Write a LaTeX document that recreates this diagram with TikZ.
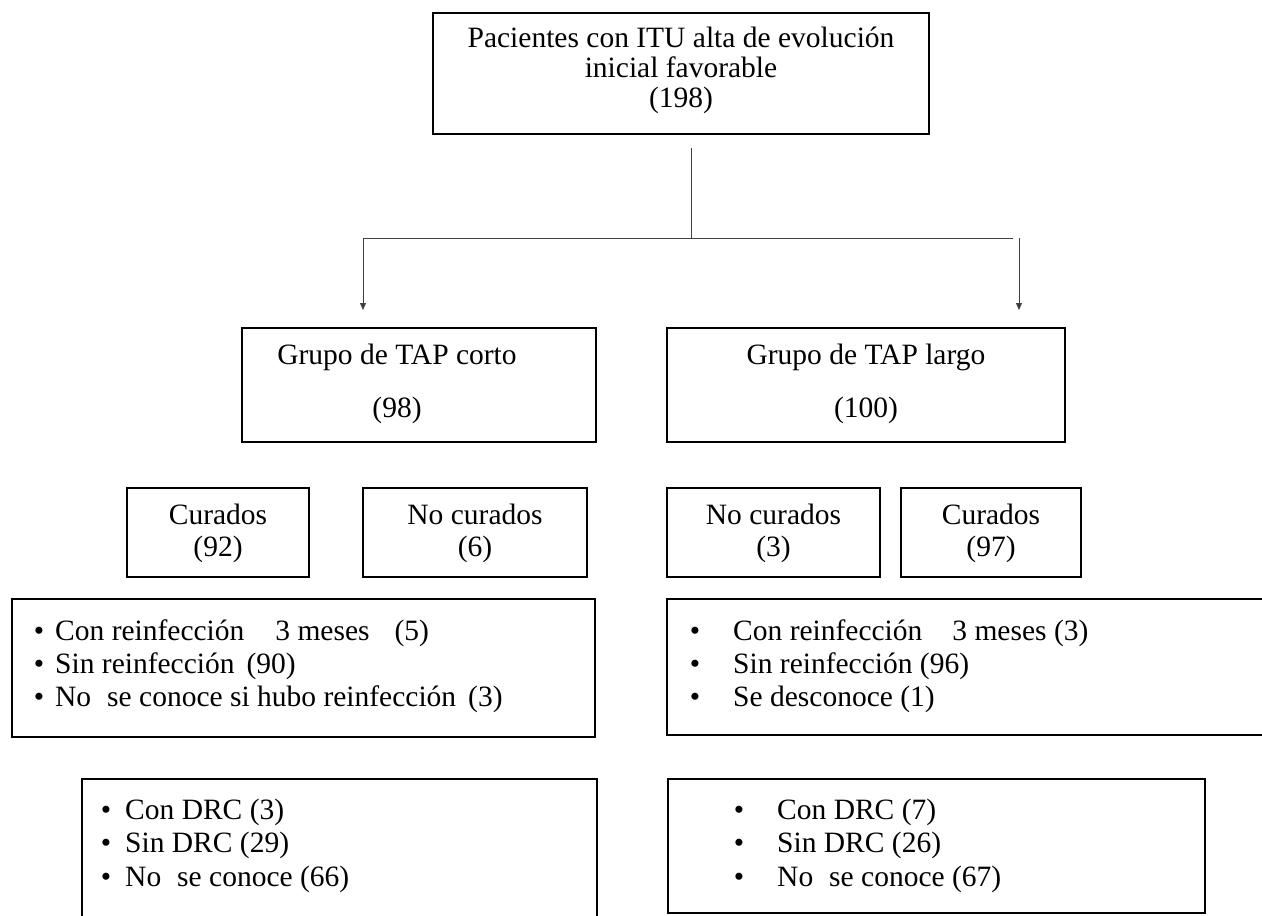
\documentclass[tikz,border=0pt]{standalone}
\usepackage{fontspec}
\setmainfont{Liberation Serif}
\usetikzlibrary{arrows.meta}
\begin{document}
\begin{tikzpicture}[x=1pt,y=-1pt,
  box/.style={draw, line width=1.6pt, rectangle, inner sep=0pt},
  conn/.style={line width=1pt, draw=black!75},
  arr/.style={conn, -{Triangle[length=7pt,width=6pt]}},
  txt/.style={font=\fontsize{29.5}{33}\selectfont, inner sep=0pt},
  bul/.style={font=\fontsize{29.5}{33}\selectfont, inner sep=0pt, anchor=base}]
\useasboundingbox (0,0) rectangle (1262,916);

% top box
\node[box, minimum width=496pt, minimum height=121pt] (top) at (681,73.5) {};
\node[txt, anchor=base] (t1) at (681,47) {Pacientes con ITU alta de evolución};
\node[txt, anchor=base] (t2) at (681,77) {inicial favorable};
\node[txt, anchor=base] (t3) at (681,107) {(198)};

% connectors
\coordinate (vtop) at (691,148);
\coordinate (split) at (691,238);
\coordinate (lcorner) at (363,238);
\coordinate (rcorner) at (1013,238);
\coordinate (rstart) at (1019,238);
\coordinate (ltip) at (363,310);
\coordinate (rtip) at (1019,310);
\draw[conn] (vtop) -- (split);
\draw[conn] (lcorner) -- (rcorner);
\draw[arr] (lcorner) -- (ltip);
\draw[arr] (rstart) -- (rtip);

% group boxes
\node[box, minimum width=354pt, minimum height=114pt] (gcorto) at (419,385) {};
\node[txt, anchor=base] (gc1) at (397,364) {Grupo de TAP corto};
\node[txt, anchor=base] (gc2) at (397,417) {(98)};
\node[box, minimum width=398pt, minimum height=114pt] (glargo) at (866,385) {};
\node[txt, anchor=base] (gl1) at (866,364) {Grupo de TAP largo};
\node[txt, anchor=base] (gl2) at (866,417) {(100)};

% middle row
\node[box, minimum width=182pt, minimum height=89pt] (c92) at (218,532.5) {};
\node[txt, anchor=base] (c92a) at (218,524) {Curados};
\node[txt, anchor=base] (c92b) at (218,556) {(92)};
\node[box, minimum width=224pt, minimum height=89pt] (n6) at (475,532.5) {};
\node[txt, anchor=base] (n6a) at (475,524) {No curados};
\node[txt, anchor=base] (n6b) at (475,556) {(6)};
\node[box, minimum width=213pt, minimum height=89pt] (n3) at (773.5,532.5) {};
\node[txt, anchor=base] (n3a) at (773.5,524) {No curados};
\node[txt, anchor=base] (n3b) at (773.5,556) {(3)};
\node[box, minimum width=180pt, minimum height=89pt] (c97) at (991,532.5) {};
\node[txt, anchor=base] (c97a) at (991,524) {Curados};
\node[txt, anchor=base] (c97b) at (991,556) {(97)};

% left reinfection list
\node[box, minimum width=583pt, minimum height=138pt] (lreinf) at (303.5,668) {};
\node[bul] (lb1) at (39,640) {\textbullet};
\node[bul] (lb2) at (39,673) {\textbullet};
\node[bul] (lb3) at (39,706) {\textbullet};
\node[txt, anchor=base west] (lr1) at (55,640) {Con reinfección\hspace{31pt}3 meses\hspace{25pt}(5)};
\node[txt, anchor=base west] (lr2) at (55,673) {Sin reinfección\hspace{12pt}(90)};
\node[txt, anchor=base west] (lr3) at (55,706) {No\hspace{16pt}se conoce si hubo reinfección\hspace{12pt}(3)};

% right reinfection list (open on the right)
\draw[line width=1.6pt] (1262,599) -- (667,599) -- (667,735) -- (1262,735);
\node[bul] (rb1) at (695,640) {\textbullet};
\node[bul] (rb2) at (695,673) {\textbullet};
\node[bul] (rb3) at (695,706) {\textbullet};
\node[txt, anchor=base west] (rr1) at (733,640) {Con reinfección\hspace{30pt}3 meses (3)};
\node[txt, anchor=base west] (rr2) at (733,673) {Sin reinfección (96)};
\node[txt, anchor=base west] (rr3) at (733,706) {Se desconoce (1)};

% bottom left DRC list (open at the bottom)
\draw[line width=1.3pt] (82,920) -- (82,779) -- (597,779) -- (597,920);
\node[bul] (db1) at (106,819) {\textbullet};
\node[bul] (db2) at (106,852) {\textbullet};
\node[bul] (db3) at (106,886) {\textbullet};
\node[txt, anchor=base west] (d1) at (125,819) {Con DRC (3)};
\node[txt, anchor=base west] (d2) at (125,852) {Sin DRC (29)};
\node[txt, anchor=base west] (d3) at (125,886) {No\hspace{16pt}se conoce (66)};

% bottom right DRC list
\node[box, line width=1.3pt, minimum width=537pt, minimum height=134pt] (drcr) at (936.5,846) {};
\node[bul] (eb1) at (739,819) {\textbullet};
\node[bul] (eb2) at (739,852) {\textbullet};
\node[bul] (eb3) at (739,886) {\textbullet};
\node[txt, anchor=base west] (e1) at (777,819) {Con DRC (7)};
\node[txt, anchor=base west] (e2) at (777,852) {Sin DRC (26)};
\node[txt, anchor=base west] (e3) at (777,886) {No\hspace{16pt}se conoce (67)};
\end{tikzpicture}
\end{document}
